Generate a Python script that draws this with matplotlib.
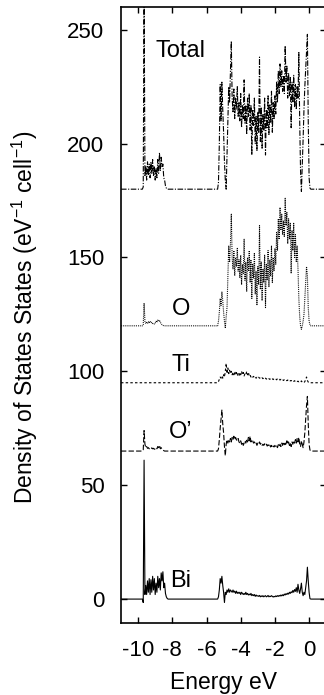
import matplotlib
matplotlib.use("Agg")
import matplotlib.pyplot as plt

plt.rcParams['font.family'] = ['Liberation Sans', 'DejaVu Sans']
plt.rcParams['mathtext.fontset'] = 'custom'
plt.rcParams['mathtext.rm'] = 'Liberation Sans'
plt.rcParams['mathtext.it'] = 'Liberation Sans'
plt.rcParams['mathtext.default'] = 'regular'
plt.rcParams['axes.unicode_minus'] = False

# ---------------- data ----------------
energy_low = [-11.0, -9.8,
              -9.75, -9.70, -9.65, -9.60, -9.55, -9.50, -9.45, -9.40, -9.35, -9.30,
              -9.25, -9.20, -9.15, -9.10, -9.05, -9.00, -8.95, -8.90, -8.85, -8.80,
              -8.75, -8.70, -8.65, -8.60, -8.55, -8.50, -8.45, -8.40, -8.35, -8.30,
              -8.25, -8.20, -8.15, -8.10]
energy_band = [-5.40, -5.35, -5.30, -5.25, -5.20, -5.15, -5.10, -5.05, -5.00, -4.95,
               -4.90, -4.85, -4.80, -4.75, -4.70, -4.65, -4.60, -4.55, -4.50, -4.45,
               -4.40, -4.35, -4.30, -4.25, -4.20, -4.15, -4.10, -4.05, -4.00, -3.95,
               -3.90, -3.85, -3.80, -3.75, -3.70, -3.65, -3.60, -3.55, -3.50, -3.45,
               -3.40, -3.35, -3.30, -3.25, -3.20, -3.15, -3.10, -3.05, -3.00, -2.95,
               -2.90, -2.85, -2.80, -2.75, -2.70, -2.65, -2.60, -2.55, -2.50, -2.45,
               -2.40, -2.35, -2.30, -2.25, -2.20, -2.15, -2.10, -2.05, -2.00, -1.95,
               -1.90, -1.85, -1.80, -1.75, -1.70, -1.65, -1.60, -1.55, -1.50, -1.45,
               -1.40, -1.35, -1.30, -1.25, -1.20, -1.15, -1.10, -1.05, -1.00, -0.95,
               -0.90, -0.85, -0.80, -0.75, -0.70, -0.65, -0.60, -0.55, -0.50, -0.45,
               -0.40, -0.35, -0.30, -0.25, -0.20, -0.15, -0.10, -0.05, 0.00, 0.05,
               0.10]
energy_high = [0.15, 1.0]

# Bi partial DOS
bi_low = [0, 0,
          0, -1.5, 61, 2, 6, 2, 8, 3, 9, 2,
          8.5, 3, 10, 4, 9, 2, 7, 3, 10, 5,
          9, 4, 11.5, 8, 12, 5, 7, 2.5, 1, 0.3,
          0, 0, 0, 0]
bi_band = [0, 0, 1, 4, 9, 7, 10, 6, 3, -1.5,
           3, 2, 4, 3, 4.5, 3, 4, 3.5, 3, 4,
           3, 3.5, 2.5, 3.5, 2.5, 3, 2.5, 3, 2, 3,
           2.5, 2, 2.5, 2, 3, 2, 2.5, 1.8, 2.2, 1.8,
           2.5, 1.5, 2, 1.5, 2, 1.2, 1.8, 1.3, 1.5, 1.2,
           1.6, 1.0, 1.4, 1.1, 1.5, 1.0, 1.3, 1.5, 1.0, 1.2,
           1.6, 1.0, 1.3, 1.1, 1.5, 1.2, 0.9, 1.2, 1.0, 1.4,
           1.1, 1.5, 1.2, 1.6, 1.3, 1.8, 1.4, 1.9, 1.5, 2.2,
           1.8, 2.4, 2.0, 2.6, 2.2, 3.0, 2.5, 3.2, 2.8, 3.8,
           3.0, 4.2, 3.4, 5.0, 3.0, 6.5, 4.0, 2.5, 4.5, 7.0,
           3.0, 1.5, 3.0, 2.0, 5.0, 8.0, 14.0, 8.0, 3.0, 0.2,
           0]
bi_high = [0, 0]

# O' partial DOS
o2_low = [0, 0,
          0, 0.5, 9, 3, 1.5, 2, 1.2, 1.5, 1.0, 1.3,
          1.0, 1.4, 1.0, 1.2, 0.8, 1.0, 1.5, 1.0, 2.0, 1.5,
          2.5, 1.0, 1.5, 0.8, 0.4, 0.2, 0, 0, 0, 0,
          0, 0, 0, 0]
o2_band = [0, 0, 1, 5, 10, 14, 18, 12, 8, 2,
           -2, 3, 5, 3.5, 5, 4, 5.5, 4, 6, 5,
           6.5, 5, 6, 5, 4.5, 5.5, 4, 3.5, 4.5, 3,
           4, 2.5, 3.5, 4.5, 3.5, 5, 4, 6, 4.5, 6.5,
           4, 5, 4.5, 3.5, 4, 3, 3.5, 2.5, 3.5, 3,
           4, 3, 3.5, 2.5, 3, 2.5, 3.2, 2.5, 3, 2.2,
           2.8, 2, 2.6, 1.8, 2.5, 1.5, 2.2, 1.8, 2.5, 1.6,
           2.2, 1.5, 2.8, 2.0, 3.0, 2.0, 3.5, 2.5, 4.0, 2.8,
           3.5, 2.5, 4.5, 3.0, 4.0, 2.5, 3.5, 2.0, 4.0, 3.0,
           4.5, 3.5, 5.0, 3.5, 5.5, 4.0, 6.0, 3.0, 2.0, 4.5,
           3.0, 1.5, 4.0, 8.0, 14.0, 20.0, 24.0, 12.0, 3.0, 0.5,
           0]
o2_high = [0, 0]

# Ti partial DOS
ti_low = [0] * 36
ti_band = [0, 0, 0.5, 1.5, 2.5, 2, 3, 2, 3.5, 2.5,
           5, 8.5, 4, 6.5, 4, 5.5, 4, 5, 3.5, 4.5,
           3.5, 5, 3.5, 4.5, 3, 4, 3, 4.5, 3.5, 5,
           3.5, 4.5, 3, 4, 3.5, 5, 3.5, 4.5, 3, 3.5,
           2.5, 3, 2.5, 2.8, 2.2, 2.6, 2, 2.4, 2.0, 2.4,
           2.0, 2.2, 1.8, 2.2, 1.8, 2.0, 1.6, 2.0, 1.6, 1.9,
           1.5, 1.8, 1.5, 1.8, 1.4, 1.7, 1.4, 1.8, 1.5, 1.7,
           1.3, 1.6, 1.2, 1.5, 1.2, 1.5, 1.1, 1.4, 1.0, 1.3,
           1.0, 1.2, 0.9, 1.2, 0.8, 1.1, 0.8, 1.0, 0.7, 1.0,
           0.6, 0.9, 0.5, 0.8, 0.5, 0.7, 0.4, 0.6, 0.3, 0.8,
           0.2, 0.3, 0.1, 0.5, 1.5, 2.5, 1.0, 0.3, 0, 0,
           0]
ti_high = [0, 0]

# O partial DOS
o_low = [0, 0,
         0, 0.5, 10, 2, 1, 1.5, 1, 1.8, 1.2, 2,
         1.3, 1.5, 1, 1.2, 0.8, 1.2, 2, 1.5, 2.5, 2,
         2.5, 1.5, 1, 0.5, 0.2, 0, 0, 0, 0, 0,
         0, 0, 0, 0]
o_band = [0, 0, 2, 6, 12, 9, 15, 11, 6, 2,
          -1, 4, 8, 22, 35, 28, 36, 49, 30, 25,
          33, 22, 30, 26, 34, 24, 29, 21, 31, 18,
          27, 23, 38, 20, 28, 15, 30, 24, 33, 19,
          29, 12, 27, 21, 32, 14, 24, 9, 26, 18,
          44, 16, 28, 11, 25, 19, 31, 8, 27, 20,
          33, 17, 29, 22, 35, 19, 30, 24, 34, 27,
          41, 33, 47, 38, 52, 42, 49, 40, 46, 39,
          56, 44, 50, 36, 47, 38, 45, 23, 42, 33,
          45, 30, 40, 28, 35, 25, 12, 4, 0, -1.5,
          0, 2, 5, 12, 19, 26, 22, 8, 2, 0.5,
          0]
o_high = [0, 0]

# Total DOS
tot_low = [0, 0,
           0, 1, 90, 6, 10, 4, 12, 6, 11, 5,
           12, 7, 13, 6, 10, 4, 9, 5, 13, 7,
           16, 8, 14, 10, 11, 5, 4, 1.5, 0.5, 0,
           0, 0, 0, 0]
tot_band = [0, 0, 3, 20, 46, 30, 47, 35, 25, 12,
            4, 0, 15, 30, 45, 38, 52, 65, 40, 34,
            44, 31, 40, 35, 45, 32, 38, 30, 42, 27,
            37, 31, 48, 29, 37, 24, 40, 32, 42, 26,
            37, 15, 35, 28, 40, 20, 32, 17, 34, 25,
            58, 21, 36, 18, 33, 26, 40, 15, 35, 27,
            41, 24, 37, 29, 43, 25, 38, 31, 41, 33,
            47, 38, 52, 42, 55, 45, 52, 43, 50, 42,
            63, 47, 54, 40, 51, 41, 49, 27, 47, 38,
            50, 36, 46, 35, 45, 40, 60, 30, 8, -1,
            10, 22, 35, 45, 53, 60, 68, 30, 5, 0.5,
            0]
tot_high = [0, 0]

names = ['Total', 'O', 'Ti', 'O\u2019', 'Bi']
offsets = [180, 120, 95, 65, 0]
label_x = [-7.5, -7.5, -7.5, -7.5, -7.5]
label_y = [240.5, 127.5, 103, 73.5, 8]

series = {
    'Total': (tot_low, tot_band, tot_high),
    'O': (o_low, o_band, o_high),
    'Ti': (ti_low, ti_band, ti_high),
    'O\u2019': (o2_low, o2_band, o2_high),
    'Bi': (bi_low, bi_band, bi_high),
}
styles = {
    'Total': (5.0, 1.4, 1.0, 1.4),
    'O': (0.8, 0.9),
    'Ti': (2.2, 2.0),
    'O\u2019': (4.8, 2.0),
    'Bi': None,
}

energy = energy_low + energy_band + energy_high

# ---------------- figure ----------------
fig = plt.figure(figsize=(3.24, 6.95), dpi=100)
ax = fig.add_axes([121 / 324, 1 - 623 / 695, (326.2 - 121) / 324, (623 - 7) / 695])

for name, off in zip(names, offsets):
    lo, band, hi = series[name]
    vals = [v + off for v in (lo + band + hi)]
    line, = ax.plot(energy, vals, color='black', lw=0.8)
    if styles[name] is not None:
        line.set_dashes(styles[name])

for name, lx, ly in zip(names, label_x, label_y):
    ax.text(lx, ly, name, fontsize=17, ha='center', va='center')

ax.set_xlim(-11, 1)
ax.set_ylim(-10.5, 260)
ax.set_xticks([-10, -8, -6, -4, -2, 0])
ax.set_yticks([0, 50, 100, 150, 200, 250])
ax.tick_params(direction='in', length=4, width=1, top=True, right=True,
               labelsize=16, pad=12)
for s in ax.spines.values():
    s.set_linewidth(1.2)

fig.text(224 / 324, 1 - 682 / 695, 'Energy eV', fontsize=16.5, ha='center', va='center')
fig.text(25 / 324, 1 - 317 / 695, r'Density of States States (eV$^{-1}$ cell$^{-1}$)',
         fontsize=16.5, rotation=90, ha='center', va='center')

fig.savefig('out.png', dpi=100)
